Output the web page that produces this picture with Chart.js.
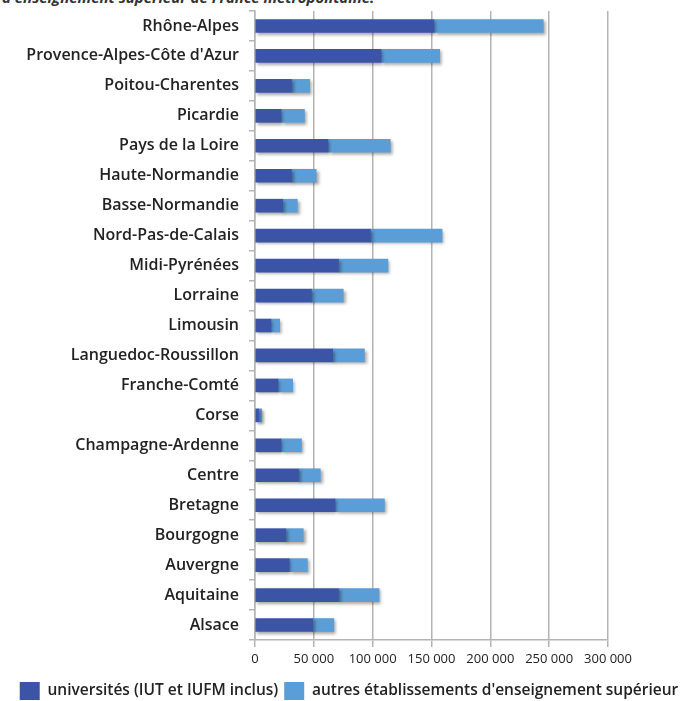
<!DOCTYPE html>
<html>
<head>
<meta charset="utf-8">
<script src="https://cdn.jsdelivr.net/npm/chart.js@4"></script>
<style>
  html, body { margin: 0; padding: 0; background: #fff; overflow: hidden; }
  #wrap { position: relative; width: 698px; height: 701px; overflow: hidden; }
  #title { position: absolute; left: 2px; top: -13px; font: italic bold 15px "Open Sans", sans-serif; color: #333; white-space: nowrap; }
  canvas { position: absolute; left: 0; top: 0; }
</style>
</head>
<body>
<div id="wrap">
  <div id="title">d'enseignement supérieur de France métropolitaine.</div>
  <canvas id="c" width="698" height="710"></canvas>
</div>
<script>
const regions = ["Rhône-Alpes", "Provence-Alpes-Côte d'Azur", "Poitou-Charentes", "Picardie", "Pays de la Loire",
  "Haute-Normandie", "Basse-Normandie", "Nord-Pas-de-Calais", "Midi-Pyrénées", "Lorraine", "Limousin",
  "Languedoc-Roussillon", "Franche-Comté", "Corse", "Champagne-Ardenne", "Centre", "Bretagne",
  "Bourgogne", "Auvergne", "Aquitaine", "Alsace"];
const universites = [152000, 107000, 31000, 22000, 62000, 31000, 23500, 98000, 71000, 48000, 13500,
  66000, 19500, 3000, 22000, 37000, 68000, 26000, 29000, 71000, 49000];
const autres = [93000, 50000, 15500, 20000, 53000, 21000, 12500, 61000, 42000, 27000, 7500,
  27000, 12500, 2700, 17500, 18500, 42000, 15000, 15500, 34500, 18000];
const xTicks = [0, 50000, 100000, 150000, 200000, 250000, 300000];
const seriesNames = ["universités (IUT et IUFM inclus)", "autres établissements d'enseignement supérieur"];

const fmt = v => String(v).replace(/\B(?=(\d{3})+(?!\d))/g, ' ');

const shadow = {
  id: 'shadow',
  beforeDatasetsDraw(chart) {
    const ctx = chart.ctx;
    ctx.save();
    ctx.shadowColor = 'rgba(0,0,0,0.35)';
    ctx.shadowOffsetX = 2;
    ctx.shadowOffsetY = 2;
    ctx.shadowBlur = 3;
  },
  afterDatasetsDraw(chart) { chart.ctx.restore(); }
};

new Chart(document.getElementById('c'), {
  type: 'bar',
  data: {
    labels: regions,
    datasets: [
      { label: seriesNames[0], data: universites, backgroundColor: '#3b54a6', barThickness: 13 },
      { label: seriesNames[1], data: autres, backgroundColor: '#5b9dd6', barThickness: 13 }
    ]
  },
  plugins: [shadow],
  options: {
    indexAxis: 'y',
    responsive: false,
    animation: false,
    layout: { padding: { top: 11, right: 0, left: 0, bottom: 0 } },
    plugins: {
      tooltip: { enabled: false },
      legend: {
        position: 'bottom',
        labels: {
          font: { family: '"Open Sans", sans-serif', size: 15.5, weight: '600' },
          color: '#222',
          boxWidth: 20,
          boxHeight: 18,
          padding: 6
        }
      }
    },
    scales: {
      x: {
        stacked: true,
        min: 0, max: 300000,
        afterBuildTicks(axis) { axis.ticks = xTicks.map(v => ({ value: v })); },
        afterFit(axis) { axis.height = 36; axis.paddingLeft = 0; axis.paddingRight = 90; },
        ticks: {
          callback: v => fmt(v),
          font: { family: '"Open Sans", sans-serif', size: 13 },
          color: '#222',
          maxRotation: 0,
          padding: 4
        },
        grid: { color: '#b4b4b4', lineWidth: 1.5, tickLength: 7 },
        border: { color: '#b4b4b4', width: 1.5 }
      },
      y: {
        stacked: true,
        afterFit(axis) { axis.width = 255; axis.paddingTop = 0; axis.paddingBottom = 0; },
        ticks: {
          font: { family: '"Open Sans", sans-serif', size: 16, weight: '600' },
          color: '#222',
          padding: 10
        },
        grid: { offset: true, drawOnChartArea: false, color: '#b4b4b4', lineWidth: 1.5, tickLength: 6 },
        border: { color: '#b4b4b4', width: 1.5 }
      }
    }
  }
});
</script>
</body>
</html>
